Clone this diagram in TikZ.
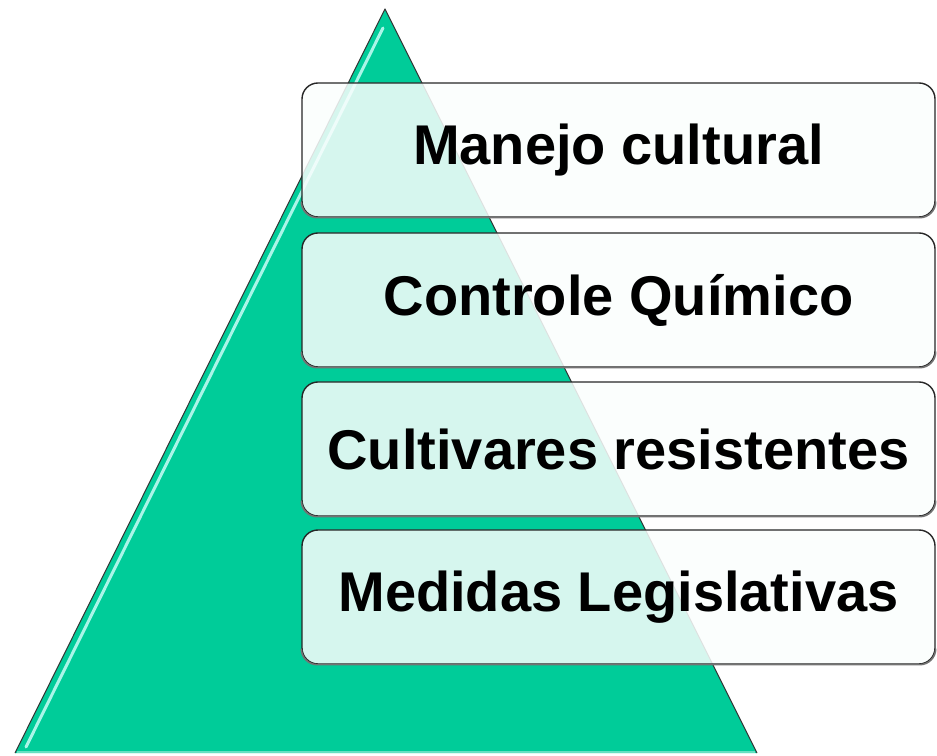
\documentclass[tikz,border=0pt]{standalone}
\usepackage{fontspec}
\setmainfont{Liberation Sans}
\definecolor{tri}{RGB}{0,204,153}
\definecolor{trihi}{RGB}{170,245,232}
\definecolor{boxfill}{RGB}{250,254,253}
\tikzset{
  layer/.style={draw=black!85, line width=1.4pt, rounded corners=16pt,
    fill=boxfill, fill opacity=0.86, text opacity=1,
    minimum width=633pt, minimum height=134pt, inner sep=0pt,
    font=\bfseries\fontsize{56}{60}\selectfont},
  shadowline/.style={draw=black!55, line width=1.6pt, rounded corners=16pt},
}
\newcommand{\layershadow}[1]{%
  \draw[shadowline, yshift=-2.5pt] ([yshift=16pt]#1.south west) -- (#1.south west)
    -- (#1.south east) -- ([yshift=16pt]#1.south east);}
\begin{document}
\begin{tikzpicture}[x=1pt,y=1pt]
\useasboundingbox (0,0) rectangle (937,755);
% pyramid
\coordinate (bl) at (15,2);
\coordinate (br) at (757,2);
\coordinate (ap) at (385,746);
\fill[tri] (bl) -- (br) -- (ap) -- cycle;
\draw[trihi, line width=3pt, line cap=round] (26,8) -- (383,727);
\draw[black!80, line width=1pt, line join=round] (bl) -- (ap) -- (br);
\draw[tri!60!white, line width=2pt] (17,3) -- (755,3);
% layers
\path (618.5,605) node[layer] (l1) {Manejo cultural};
\path (618.5,455) node[layer] (l2) {Controle Químico};
\path (618.5,306) node[layer] (l3) {Cultivares resistentes};
\path (618.5,158) node[layer] (l4) {Medidas Legislativas};
\layershadow{l1}
\layershadow{l2}
\layershadow{l3}
\layershadow{l4}
\end{tikzpicture}
\end{document}
